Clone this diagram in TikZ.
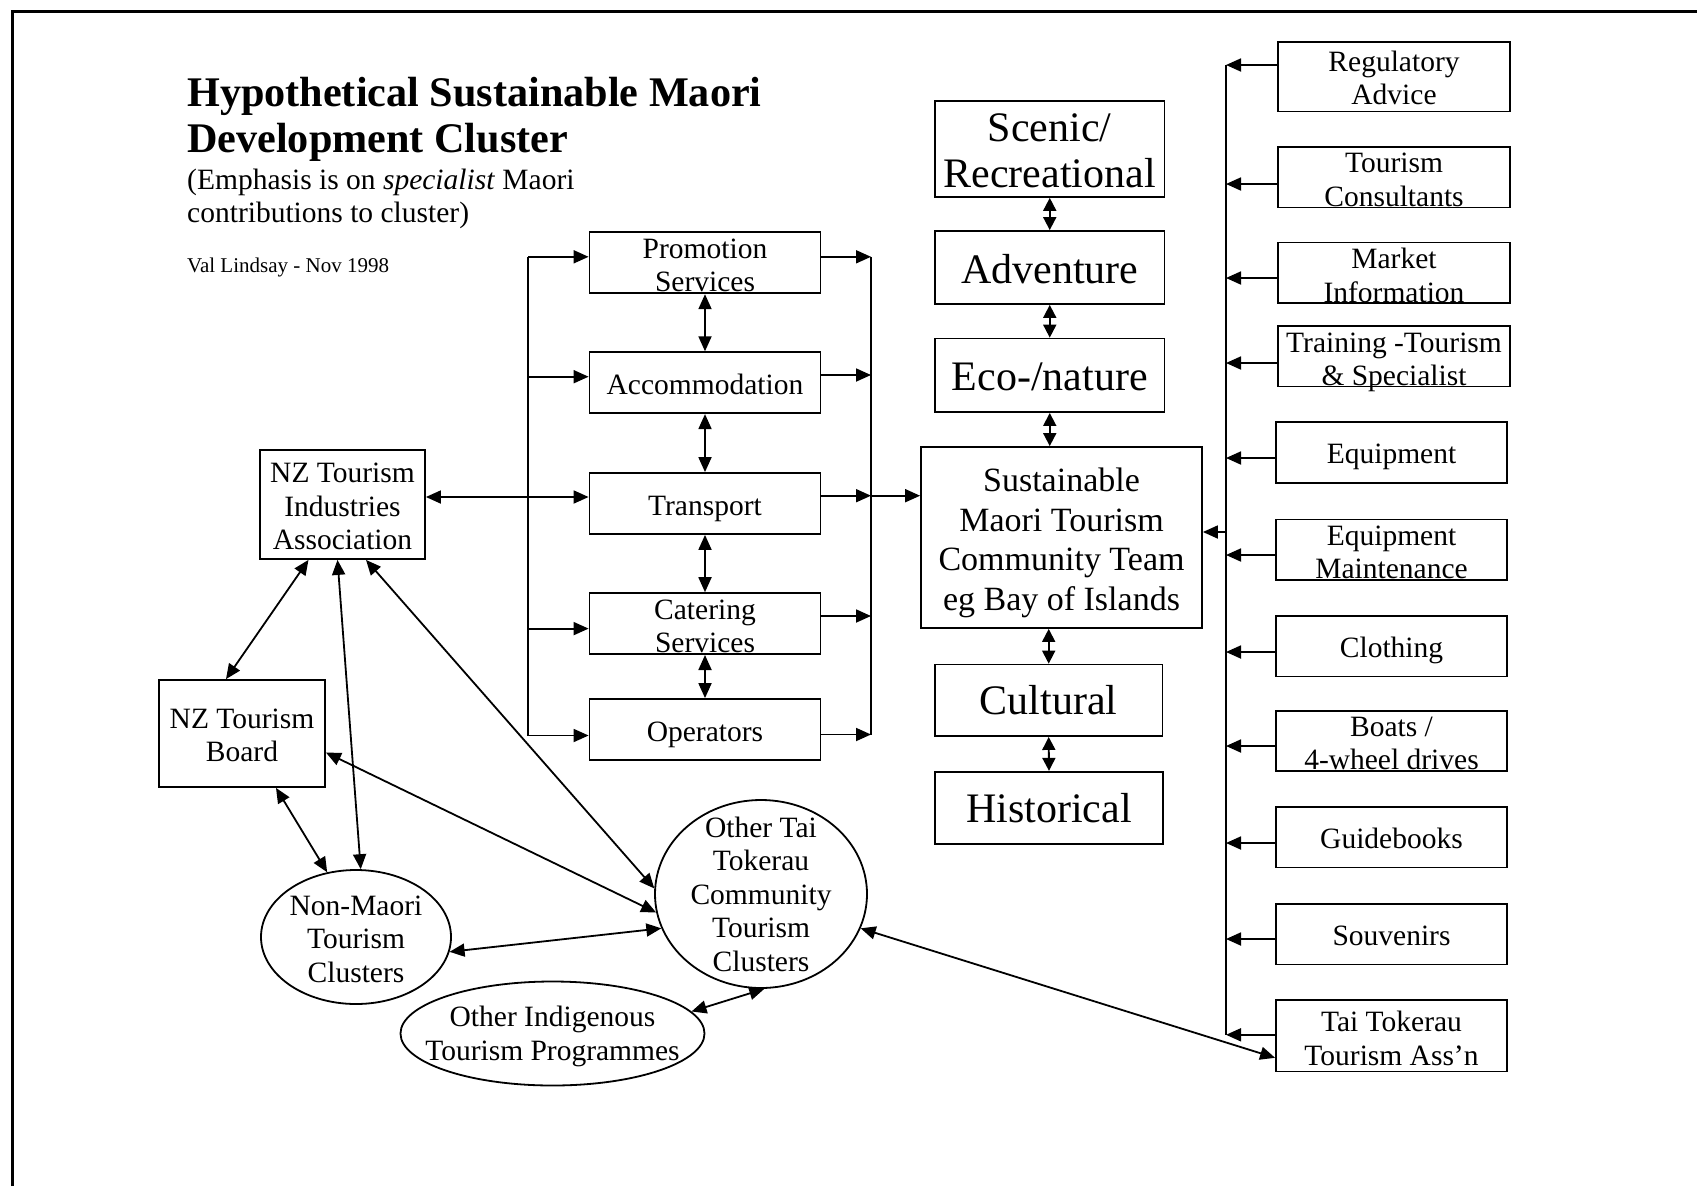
\documentclass[tikz,border=0pt]{standalone}
\usepackage{fontspec}
\setmainfont{Liberation Serif}
\usetikzlibrary{arrows.meta,calc,shapes.geometric}
\newcommand\zt[2][-5pt]{\raisebox{#1}[0pt][0pt]{\vbox to 0pt{\vss\hbox to 0pt{\hss\begin{tabular}{@{}c@{}}#2\end{tabular}\hss}\vss}}}
\newcommand\fsm{\fontsize{29.5}{33.5}\selectfont}
\newcommand\fbg{\fontsize{42}{46.6}\selectfont}
\newcommand\fmd{\fontsize{34}{39.7}\selectfont}
\begin{document}
\begin{tikzpicture}[x=1pt,y=-1pt,
  ln/.style={line width=1.8pt},
  ar/.style={ln,-{Triangle[length=15pt,width=13pt]}},
  dar/.style={ln,{Triangle[length=15pt,width=13pt]}-{Triangle[length=15pt,width=13pt]}},
  sdar/.style={ln,{Triangle[length=13pt,width=13pt]}-{Triangle[length=13pt,width=13pt]}},
  bx/.style={draw,line width=1.8pt,inner sep=0pt,font=\fsm},
  bbx/.style={bx,font=\fbg},
  el/.style={ellipse,draw,line width=1.8pt,inner sep=0pt,font=\fsm},
  rbox/.style={bx,minimum width=232},
  lbox/.style={bx,minimum width=231,minimum height=60.6},
  mbox/.style={bx,minimum width=231,minimum height=61},
  ttl/.style={anchor=base west,inner sep=0pt}
]
\useasboundingbox (0,0) rectangle (1697,1186);
\fill[white] (0,0) rectangle (1697,1186);
\draw[line width=3pt] (12,1186) -- (12,11) -- (1697,11);

% title
\node[ttl,font=\fontsize{42.2}{46}\selectfont\bfseries] (t1) at (187,106) {Hypothetical Sustainable Maori};
\node[ttl,font=\fontsize{42.2}{46}\selectfont\bfseries] (t2) at (187,152.5) {Development Cluster};
\node[ttl,font=\fsm] (s1) at (187,189) {(Emphasis is on \textit{specialist} Maori};
\node[ttl,font=\fsm] (s2) at (187,222) {contributions to cluster)};
\node[ttl,font=\fontsize{21}{24}\selectfont] (au) at (187,272) {Val Lindsay - Nov 1998};

% middle column
\node[mbox] (promo) at (705,262.8) {\zt[-5.5pt]{Promotion\\Services}};
\node[mbox] (accom) at (705,382.7) {\zt{Accommodation}};
\node[mbox] (transport) at (705,503.5) {\zt{Transport}};
\node[mbox] (cater) at (705,623.6) {\zt[-5.5pt]{Catering\\Services}};
\node[mbox] (oper) at (705,729.5) {\zt{Operators}};

% activity column
\node[bbx,minimum width=229.5,minimum height=96.3] (scen) at (1049.75,148.8) {\zt[-6.5pt]{Scenic/\\Recreational}};
\node[bbx,minimum width=229.5,minimum height=73] (adv) at (1049.75,267.5) {\zt[-6.5pt]{Adventure}};
\node[bbx,minimum width=229.5,minimum height=73.5] (eco) at (1049.75,375.3) {\zt[-6pt]{Eco-/nature}};
\node[bx,font=\fmd,minimum width=281,minimum height=181] (sust) at (1061.5,537.5) {\zt[-5.5pt]{Sustainable\\Maori Tourism\\Community Team\\eg Bay of Islands}};
\node[bbx,minimum width=227.4,minimum height=71.5] (cult) at (1048.7,700.3) {\zt[-5pt]{Cultural}};
\node[bbx,minimum width=228.5,minimum height=72.5] (hist) at (1049,808) {\zt[-5.5pt]{Historical}};

% supplier column
\node[rbox,minimum height=69.5] (reg) at (1394,76.8) {\zt[-4.5pt]{Regulatory\\Advice}};
\node[rbox,minimum height=60.5] (cons) at (1394,177.2) {\zt[-5.5pt]{Tourism\\Consultants}};
\node[rbox,minimum height=60.6] (mkt) at (1394,272.7) {\zt[-6pt]{Market\\Information}};
\node[rbox,minimum height=60.6] (trn) at (1394,356.1) {\zt[-6pt]{Training -Tourism\\\& Specialist}};
\node[lbox] (eq) at (1391.5,452.4) {\zt[-4.5pt]{Equipment}};
\node[lbox] (em) at (1391.5,549.8) {\zt[-5.5pt]{Equipment\\Maintenance}};
\node[lbox] (clo) at (1391.5,646.1) {\zt{Clothing}};
\node[lbox] (boat) at (1391.5,740.9) {\zt[-5.5pt]{Boats /\\4-wheel drives}};
\node[lbox] (guide) at (1391.5,837.2) {\zt{Guidebooks}};
\node[lbox] (souv) at (1391.5,934.2) {\zt{Souvenirs}};
\node[lbox,minimum height=71.5] (tt) at (1391.5,1035.8) {\zt[-6pt]{Tai Tokerau\\Tourism Ass'n}};

% left side
\node[bx,minimum width=165,minimum height=109] (nztia) at (342.5,504.5) {\zt{NZ Tourism\\Industries\\Association}};
\node[bx,minimum width=166,minimum height=107] (nztb) at (242,733.5) {\zt{NZ Tourism\\Board}};
\node[el,minimum width=212,minimum height=188] (ota) at (761,894) {\zt[-3.5pt]{Other Tai\\Tokerau\\Community\\Tourism\\Clusters}};
\node[el,minimum width=190,minimum height=134] (nm) at (356,937) {\zt{Non-Maori\\Tourism\\Clusters}};
\node[el,minimum width=304,minimum height=104] (oi) at (552.5,1033.5) {\zt[-3.5pt]{Other Indigenous\\Tourism Programmes}};

% buses
\coordinate (lb) at (528,0);
\coordinate (mb) at (871,0);
\coordinate (rb) at (1226,0);

\path ($(promo.west)+(0,-6)$) coordinate (l1)
      ($(accom.west)+(0,-6)$) coordinate (l2)
      ($(cater.west)+(0,5)$) coordinate (l4)
      ($(oper.west)+(0,6)$) coordinate (l5);
\draw[ln] (lb |- l1) -- (lb |- l5);
\foreach \p in {l1,l2,l4,l5} \draw[ar] (lb |- \p) -- (\p);
\draw[dar] ($(nztia.east)+(0,-7.5)$) -- ($(transport.west)+(0,-6.5)$);

\path ($(promo.east)+(0,-6)$) coordinate (r1)
      ($(accom.east)+(0,-7.7)$) coordinate (r2)
      ($(transport.east)+(0,-7.8)$) coordinate (r3)
      ($(cater.east)+(0,-7.6)$) coordinate (r4)
      ($(oper.east)+(0,5)$) coordinate (r5);
\draw[ln] (mb |- r1) -- (mb |- r5);
\foreach \p in {r1,r2,r3,r4,r5} \draw[ar] (\p) -- (mb |- \p);
\draw[ar] (mb |- r3) -- (sust.west |- r3);

\draw[dar] (promo.south) -- (accom.north);
\draw[dar] (accom.south) -- (transport.north);
\draw[dar] (transport.south) -- (cater.north);
\draw[dar] (cater.south) -- (oper.north);

\draw[sdar] (scen.south) -- (adv.north);
\draw[sdar] (adv.south) -- (eco.north);
\draw[sdar] (eco.south) -- (eco.south |- sust.north);
\draw[sdar] (cult.north |- sust.south) -- (cult.north);
\draw[sdar] (cult.south) -- (hist.north);

\foreach \n/\dy in {reg/-11.8,cons/6.8,mkt/5.3,trn/6.9,eq/5.6,em/5.2,clo/5.9,boat/5.1,guide/5.8,souv/4.8,tt/-1} {
  \path ($(\n.west)+(0,\dy)$) coordinate (s-\n);
  \draw[ar] (s-\n) -- (rb |- s-\n);
}
\draw[ln] (rb |- s-reg) -- (rb |- s-tt);
\path ($(sust.east)+(0,-5.5)$) coordinate (se);
\draw[ar] (rb |- se) -- (se);

% diagonal links
\draw[dar] ($(nztia.south)+(-34,0)$) -- ($(nztb.north)+(-16,0)$);
\draw[dar] ($(nztia.south)+(-5,0)$) -- (nm.86);
\draw[dar] ($(nztia.south)+(23.5,0)$) -- (ota.177);
\draw[dar] ($(nztb.south)+(34,0)$) -- (nm.114);
\draw[dar] ($(nztb.east)+(0,19)$) -- (ota.190);
\draw[dar] (nm.351) -- (ota.199);
\draw[dar] (oi.9) -- (ota.272);
\draw[dar] (ota.341) -- ($(tt.west)+(0,22)$);
\end{tikzpicture}
\end{document}
